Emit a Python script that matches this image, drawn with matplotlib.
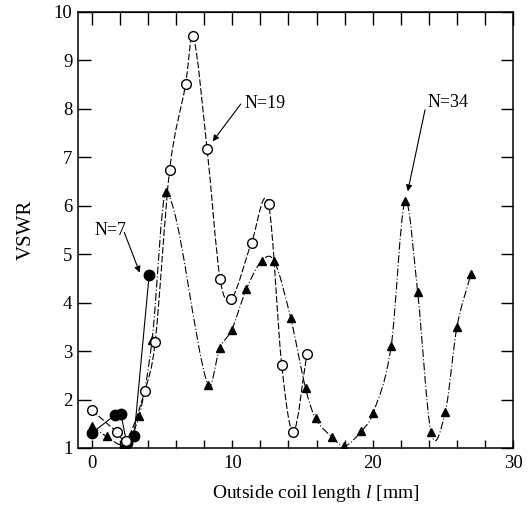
import matplotlib
matplotlib.use("Agg")
import matplotlib.pyplot as plt
from matplotlib.path import Path
from matplotlib.patches import PathPatch

plt.rcParams['font.family'] = 'Liberation Serif'
plt.rcParams['mathtext.fontset'] = 'custom'
plt.rcParams['mathtext.it'] = 'Liberation Serif:italic'
plt.rcParams['mathtext.rm'] = 'Liberation Serif'

# N=7 (filled circles, solid line)
n7_x = [0.0, 1.63, 2.06, 2.47, 3.0, 4.07]
n7_y = [1.31, 1.68, 1.70, 1.10, 1.25, 4.57]

# N=19 (open circles, dashed line)
n19_x = [0.0, 1.8, 2.45, 3.76, 4.5, 5.53, 6.67, 7.2, 8.2, 9.13, 9.93,
         11.37, 12.58, 13.52, 14.35, 15.32]
n19_y = [1.78, 1.32, 1.15, 2.18, 3.19, 6.74, 8.51, 9.51, 7.17, 4.48, 4.08,
         5.24, 6.03, 2.71, 1.34, 2.95]

# N=34 (filled triangles, dash-dot line)
n34_x = [0.0, 1.04, 2.3, 3.36, 4.28, 5.29, 8.25, 9.1, 9.95, 11.0, 12.08,
         12.98, 14.16, 15.22, 15.93, 17.12, 17.99, 19.2, 20.03, 21.32, 22.3,
         23.2, 24.16, 25.18, 26.0, 27.0]
n34_y = [1.45, 1.24, 1.09, 1.67, 3.23, 6.28, 2.30, 3.06, 3.44, 4.28, 4.86,
         4.86, 3.68, 2.23, 1.61, 1.22, 1.04, 1.35, 1.72, 3.11, 6.09,
         4.23, 1.32, 1.75, 3.49, 4.59]


def smooth_path(xs, ys):
    # cubic bezier segments through the measured points
    n = len(xs)
    m = []
    for i in range(n):
        if i == 0:
            m.append((ys[1] - ys[0]) / (xs[1] - xs[0]))
        elif i == n - 1:
            m.append((ys[-1] - ys[-2]) / (xs[-1] - xs[-2]))
        else:
            m.append((ys[i + 1] - ys[i - 1]) / (xs[i + 1] - xs[i - 1]))
    verts = [(xs[0], ys[0])]
    codes = [Path.MOVETO]
    for i in range(n - 1):
        h = xs[i + 1] - xs[i]
        verts += [(xs[i] + h / 3, ys[i] + m[i] * h / 3),
                  (xs[i + 1] - h / 3, ys[i + 1] - m[i + 1] * h / 3),
                  (xs[i + 1], ys[i + 1])]
        codes += [Path.CURVE4] * 3
    return Path(verts, codes)


fig = plt.figure(figsize=(5.31, 5.18), dpi=100)
ax = fig.add_axes([78 / 531, 1 - 448 / 518, (513 - 78) / 531, (448 - 12) / 518])

# lines
ax.plot(n7_x, n7_y, color='k', lw=0.8, zorder=2)
ax.add_patch(PathPatch(smooth_path(n19_x, n19_y), fill=False, ec='k', lw=0.8,
                       linestyle=(0, (6, 2)), zorder=2))
ax.add_patch(PathPatch(smooth_path(n34_x, n34_y), fill=False, ec='k', lw=0.8,
                       linestyle=(0, (7, 2, 1, 2)), zorder=2))

# markers
ax.plot(n7_x, n7_y, ls='none', marker='o', ms=7.5, mfc='k', mec='k', zorder=3)
ax.plot(n34_x, n34_y, ls='none', marker='^', ms=6, mfc='k', mec='k', zorder=4)
ax.plot(n19_x, n19_y, ls='none', marker='o', ms=7, mfc='white', mec='k',
        mew=1.0, zorder=5)

# annotations
arrow = dict(arrowstyle='-|>', color='k', lw=0.8, mutation_scale=9,
             shrinkA=0, shrinkB=0)
ax.text(0.15, 5.48, 'N=7', fontsize=13, ha='left', va='center')
ax.annotate('', xy=(3.4, 4.62), xytext=(2.3, 5.45), arrowprops=arrow)
ax.text(10.85, 8.12, 'N=19', fontsize=13, ha='left', va='center')
ax.annotate('', xy=(8.6, 7.33), xytext=(10.6, 8.1), arrowprops=arrow)
ax.text(23.9, 8.13, 'N=34', fontsize=13, ha='left', va='center')
ax.annotate('', xy=(22.5, 6.3), xytext=(23.73, 7.98), arrowprops=arrow)

ax.set_xlim(-1, 30)
ax.set_ylim(1, 10)
ax.set_xticks([0, 10, 20, 30])
ax.set_xticks(range(0, 31, 2), minor=True)
ax.set_yticks(range(1, 11))
ax.tick_params(axis='x', which='both', direction='in', length=6, width=1,
               labelsize=13.5, pad=5)
ax.tick_params(axis='y', which='both', direction='in', length=9, width=1,
               labelsize=13.5, pad=4, right=True)
for s in ax.spines.values():
    s.set_linewidth(1.1)

top = ax.secondary_xaxis('top')
top.set_xticks([0, 10, 20, 30])
top.set_xticks(range(0, 31, 2), minor=True)
top.tick_params(which='both', direction='in', length=9, width=1,
                labeltop=False)

fig.text(316 / 531, 1 - 493 / 518, 'Outside coil length $\\it{l}$ [mm]',
         fontsize=14, ha='center', va='center')
fig.text(26 / 531, 1 - 230 / 518, 'VSWR', fontsize=15, rotation=90,
         ha='center', va='center')

fig.savefig('out.png', dpi=100)
